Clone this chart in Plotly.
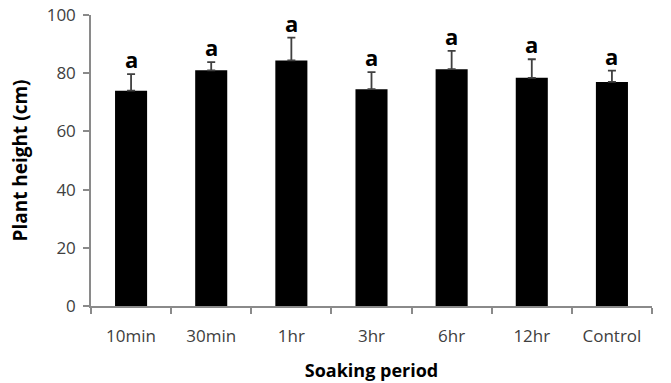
import plotly.graph_objects as go

categories = ["10min", "30min", "1hr", "3hr", "6hr", "12hr", "Control"]
heights = [74.0, 81.0, 84.4, 74.5, 81.4, 78.4, 77.0]
errors = [5.7, 2.8, 7.8, 5.9, 6.3, 6.4, 3.9]
letters = ["a", "a", "a", "a", "a", "a", "a"]
y_ticks = [0, 20, 40, 60, 80, 100]

axis_color = "#8a8a8a"
tick_font = dict(family="Open Sans", size=17, color="#404040")

fig = go.Figure(
    go.Bar(
        x=categories,
        y=heights,
        width=0.4,
        marker=dict(color="black", line=dict(color="black", width=0)),
        error_y=dict(
            type="data",
            array=errors,
            symmetric=False,
            arrayminus=[0] * len(errors),
            color="#404040",
            thickness=1.8,
            width=4,
        ),
    )
)

for cat, h, e, t in zip(categories, heights, errors, letters):
    fig.add_annotation(
        x=cat, y=h + e, text=f"<b>{t}</b>", showarrow=False,
        yanchor="bottom", yshift=-2,
        font=dict(family="Open Sans", size=22, color="black"),
    )

fig.update_layout(
    width=671, height=383,
    margin=dict(l=91, r=19, t=15, b=77),
    plot_bgcolor="white", paper_bgcolor="white",
    showlegend=False,
    bargap=0.6,
)

fig.update_xaxes(
    automargin=False,
    showline=True, linecolor=axis_color, linewidth=1.5,
    ticks="outside", ticklen=6, tickcolor=axis_color, tickwidth=1.5,
    tickson="boundaries",
    tickfont=tick_font, ticklabelstandoff=14,
    title=dict(text="<b>Soaking period</b>",
               font=dict(family="Open Sans", size=18, color="black"), standoff=18),
    showgrid=False,
)
fig.update_yaxes(
    automargin=False,
    range=[0, 100], tickvals=y_ticks,
    showline=True, linecolor=axis_color, linewidth=1.5,
    ticks="outside", ticklen=6, tickcolor=axis_color, tickwidth=1.5,
    tickfont=tick_font, ticklabelstandoff=4,
    title=dict(text="<b>Plant height (cm)</b>",
               font=dict(family="Open Sans", size=19, color="black"), standoff=14),
    showgrid=False, zeroline=False,
)

fig.write_html("out.html")
